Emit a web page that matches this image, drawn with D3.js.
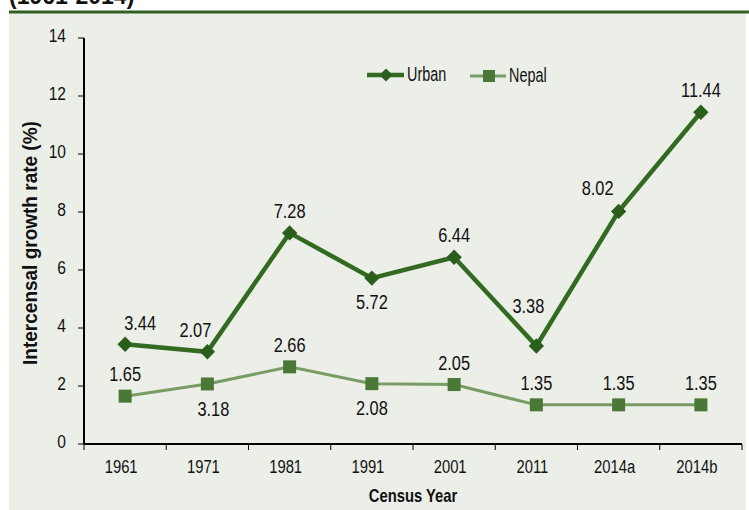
<!DOCTYPE html>
<html>
<head>
<meta charset="utf-8">
<script src="https://cdn.jsdelivr.net/npm/d3@7"></script>
<style>
  body { margin: 0; background: #fff; }
  svg text { font-family: "Liberation Sans", Arial, sans-serif; fill: #111; }
</style>
</head>
<body>
<div id="chart"></div>
<script>
var years = ["1961", "1971", "1981", "1991", "2001", "2011", "2014a", "2014b"];
var urban = [3.44, 3.18, 7.28, 5.72, 6.44, 3.38, 8.02, 11.44];
var nepal = [1.65, 2.07, 2.66, 2.08, 2.05, 1.35, 1.35, 1.35];
// labels as printed in the source (1971 values appear swapped there)
var urbanLabels = ["3.44", "2.07", "7.28", "5.72", "6.44", "3.38", "8.02", "11.44"];
var nepalLabels = ["1.65", "3.18", "2.66", "2.08", "2.05", "1.35", "1.35", "1.35"];
var yTicks = [0, 2, 4, 6, 8, 10, 12, 14];

// where each data label sits relative to its point
var urbanPlace = ["aboveRight", "aboveLeft", "above", "below", "above", "farAbove", "left", "above"];
var nepalPlace = ["above", "belowRight", "above", "below", "above", "above", "above", "above"];
var offsets = {
    above: [0, -15], below: [0, 31], aboveRight: [15, -14], belowRight: [6, 32],
    aboveLeft: [-12, -15], farAbove: [-8, -33], left: [-21, -16]
};

var W = 749, H = 510;
var margin = {top: 38, left: 84, right: 7, bottom: 66};

// place text at (x,y), squeezed (the source uses a condensed face)
function at(x, y, sx) { return "translate(" + x + "," + y + ") scale(" + (sx || 0.8) + ",1)"; }

var svg = d3.select("#chart").append("svg")
        .attr("width", W).attr("height", H);

// panel
svg.append("rect").attr("x", 9).attr("y", 13).attr("width", 737).attr("height", H - 13)
        .style("fill", "#eceee8");
svg.append("line").attr("x1", 9).attr("x2", W).attr("y1", 12).attr("y2", 12)
        .style("stroke", "#2f5f22").style("stroke-width", 3);
svg.append("text").attr("transform", at(9, 4, 1))
        .style("font-weight", "bold").style("font-size", "23px")
        .text("(1961-2014)");

var x = d3.scaleBand().domain(years).range([margin.left, W - margin.right]);
var y = d3.scaleLinear().domain([0, 14]).range([H - margin.bottom, margin.top]);
var cx = function (i) { return x(years[i]) + x.bandwidth() / 2; };

// axes
var gx = svg.append("g").attr("transform", "translate(0," + y(0) + ")");
gx.append("line").attr("x1", margin.left).attr("x2", W - margin.right)
        .style("stroke", "#000").style("stroke-width", 2);
var bounds = years.map(function (d) { return x(d); }).concat([W - margin.right]);
gx.selectAll(".xt").data(bounds).enter().append("line")
        .attr("x1", function (d) { return d; }).attr("x2", function (d) { return d; })
        .attr("y1", 0).attr("y2", 6).style("stroke", "#000").style("stroke-width", 1);
gx.selectAll(".xl").data(years).enter().append("text")
        .attr("transform", function (d, i) { return at(cx(i) - 4, 29, 0.78); })
        .attr("text-anchor", "middle").style("font-size", "19px")
        .text(function (d) { return d; });

var gy = svg.append("g");
gy.append("line").attr("x1", margin.left).attr("x2", margin.left)
        .attr("y1", y(14)).attr("y2", y(0))
        .style("stroke", "#000").style("stroke-width", 2);
gy.selectAll(".yt").data(yTicks).enter().append("line")
        .attr("x1", margin.left - 6).attr("x2", margin.left)
        .attr("y1", function (d) { return y(d); }).attr("y2", function (d) { return y(d); })
        .style("stroke", "#000");
gy.selectAll(".yl").data(yTicks).enter().append("text")
        .attr("transform", function (d) { return at(margin.left - 18, y(d) + 4, 0.82); })
        .attr("text-anchor", "end").style("font-size", "19px")
        .text(function (d) { return d; });

svg.append("text").attr("transform", at(413, 502, 0.8)).attr("text-anchor", "middle")
        .style("font-weight", "bold").style("font-size", "18.5px").text("Census Year");
svg.append("text").attr("transform", "translate(37,243) rotate(-90) scale(0.95,1)")
        .attr("text-anchor", "middle")
        .style("font-weight", "bold").style("font-size", "20px").text("Intercensal growth rate (%)");

var line = d3.line().x(function (d, i) { return cx(i); }).y(function (d) { return y(d); });

// Nepal
svg.append("path").datum(nepal).attr("d", line)
        .style("fill", "none").style("stroke", "#789c63").style("stroke-width", 3);
svg.selectAll(".nm").data(nepal).enter().append("rect")
        .attr("x", function (d, i) { return cx(i) - 6.5; })
        .attr("y", function (d) { return y(d) - 6.5; })
        .attr("width", 13).attr("height", 13).style("fill", "#4b7837");

// Urban
svg.append("path").datum(urban).attr("d", line)
        .style("fill", "none").style("stroke", "#336a22").style("stroke-width", 4.5);
var diamond = d3.symbol().type(d3.symbolDiamond2).size(150);
svg.selectAll(".um").data(urban).enter().append("path")
        .attr("d", diamond)
        .attr("transform", function (d, i) { return "translate(" + cx(i) + "," + y(d) + ")"; })
        .style("fill", "#2b5e1c");

function labels(vals, texts, place) {
    svg.selectAll(null).data(vals).enter().append("text")
            .attr("transform", function (d, i) {
                return at(cx(i) + offsets[place[i]][0], y(d) + offsets[place[i]][1], 0.78);
            })
            .attr("text-anchor", "middle").style("font-size", "21px")
            .text(function (d, i) { return texts[i]; });
}
labels(urban, urbanLabels, urbanPlace);
labels(nepal, nepalLabels, nepalPlace);

// legend
var lg = svg.append("g");
lg.append("line").attr("x1", 367).attr("x2", 404).attr("y1", 75).attr("y2", 75)
        .style("stroke", "#336a22").style("stroke-width", 4.5);
lg.append("path").attr("d", d3.symbol().type(d3.symbolDiamond2).size(110))
        .attr("transform", "translate(386,75)").style("fill", "#2b5e1c");
lg.append("text").attr("transform", at(407, 81, 0.74)).style("font-size", "19.5px").text("Urban");
lg.append("line").attr("x1", 470).attr("x2", 506).attr("y1", 76).attr("y2", 76)
        .style("stroke", "#789c63").style("stroke-width", 3);
lg.append("rect").attr("x", 483).attr("y", 70).attr("width", 12).attr("height", 12)
        .style("fill", "#4b7837");
lg.append("text").attr("transform", at(509, 82, 0.74)).style("font-size", "19.5px").text("Nepal");
</script>
</body>
</html>
